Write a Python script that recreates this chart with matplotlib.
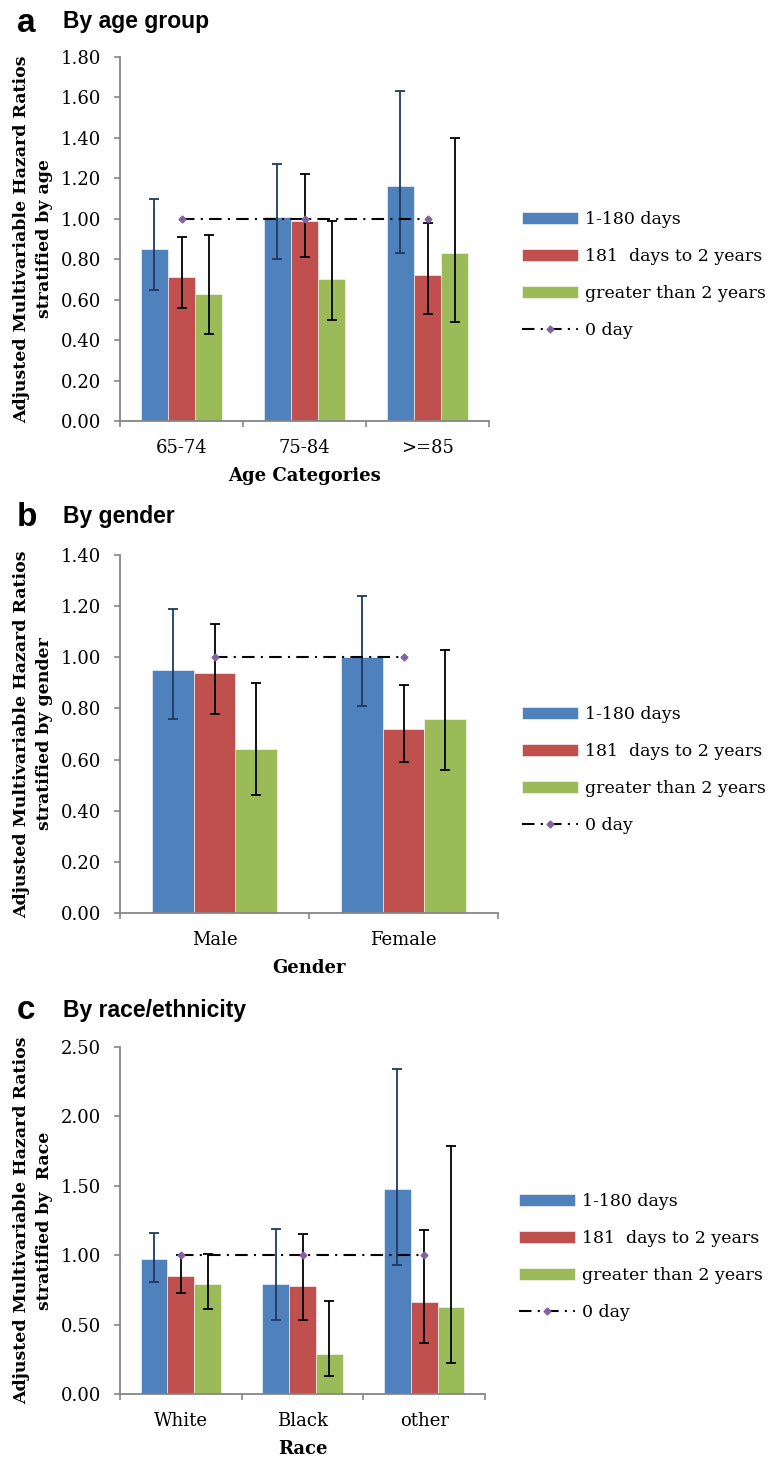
import numpy as np
import matplotlib.pyplot as plt

series_labels = ["1-180 days", "181  days to 2 years", "greater than 2 years"]
zero_label = "0 day"
bar_colors = ["#4F81BD", "#C0504D", "#9BBB59"]
err_colors = ["#1F3A5F", "black", "black"]

# panel a - age
age_cats = ["65-74", "75-84", ">=85"]
age_hr = [[0.85, 1.01, 1.16], [0.71, 0.99, 0.72], [0.63, 0.70, 0.83]]
age_lo = [[0.65, 0.80, 0.83], [0.56, 0.81, 0.53], [0.43, 0.50, 0.49]]
age_hi = [[1.10, 1.27, 1.63], [0.91, 1.22, 0.98], [0.92, 0.99, 1.40]]

# panel b - gender
sex_cats = ["Male", "Female"]
sex_hr = [[0.95, 1.00], [0.94, 0.72], [0.64, 0.76]]
sex_lo = [[0.76, 0.81], [0.78, 0.59], [0.46, 0.56]]
sex_hi = [[1.19, 1.24], [1.13, 0.89], [0.90, 1.03]]

# panel c - race
race_cats = ["White", "Black", "other"]
race_hr = [[0.97, 0.79, 1.48], [0.85, 0.78, 0.66], [0.79, 0.29, 0.63]]
race_lo = [[0.81, 0.53, 0.93], [0.73, 0.53, 0.37], [0.61, 0.13, 0.22]]
race_hi = [[1.16, 1.19, 2.34], [1.00, 1.15, 1.18], [1.01, 0.67, 1.79]]

zero_day = 1.0

SERIF = "DejaVu Serif"
SANS = "Liberation Sans"
FS = 13
W, H = 773, 1460


def draw_panel(rect, cats, hr, lo, hi, ymax, ystep, xlabel, ylabel, leg_xy):
    ax = fig.add_axes(rect)
    n = len(cats)
    x = np.arange(n) + 0.5
    width = 0.22
    handles = []
    for i in range(3):
        vals = np.array(hr[i])
        yerr = [vals - np.array(lo[i]), np.array(hi[i]) - vals]
        b = ax.bar(x + (i - 1) * width, vals, width, color=bar_colors[i],
                   edgecolor="white", linewidth=0.4, label=series_labels[i], zorder=2)
        handles.append(b)
        ax.errorbar(x + (i - 1) * width, vals, yerr=yerr, fmt="none",
                    ecolor=err_colors[i], elinewidth=1.3, capsize=3.8,
                    capthick=1.3, zorder=3)
    ln, = ax.plot(x, [zero_day] * n, color="black", linestyle=(0, (6, 3, 1, 3)),
                  linewidth=1.5, marker="D", markersize=3.5, markerfacecolor="#8064A2",
                  markeredgecolor="#8064A2", label=zero_label, zorder=4)
    handles.append(ln)

    ax.set_xlim(0, n)
    ax.set_ylim(0, ymax)
    yt = np.arange(0, ymax + 1e-9, ystep)
    ax.set_yticks(yt)
    ax.set_yticklabels(["%.2f" % v for v in yt], fontfamily=SERIF, fontsize=FS)
    ax.set_xticks(np.arange(n + 1))
    ax.set_xticklabels([])
    ax.set_xticks(x, minor=True)
    ax.set_xticklabels(cats, minor=True, fontfamily=SERIF, fontsize=FS)
    ax.tick_params(axis="x", which="minor", length=0, pad=13)
    ax.tick_params(axis="x", which="major", length=4.5, width=1.2, color="#868686")
    ax.tick_params(axis="y", length=4.5, width=1.2, color="#868686", pad=9)
    for s in ["top", "right"]:
        ax.spines[s].set_visible(False)
    for s in ["left", "bottom"]:
        ax.spines[s].set_color("#868686")
        ax.spines[s].set_linewidth(1.3)

    ax.set_xlabel(xlabel, fontfamily=SERIF, fontweight="bold", fontsize=FS,
                  labelpad=7)
    ax.set_ylabel(ylabel, fontfamily=SERIF, fontweight="bold", fontsize=12.5,
                  va="center", linespacing=1.45)
    ax.yaxis.set_label_coords(-87 / (rect[2] * W), 0.5)

    ax.legend(handles=handles, labels=series_labels + [zero_label],
              loc="center left", bbox_to_anchor=(leg_xy[0] / W, 1 - leg_xy[1] / H),
              bbox_transform=fig.transFigure, frameon=False, borderpad=0,
              borderaxespad=0, handlelength=3.2, handletextpad=0.45,
              labelspacing=1.15, prop={"family": SERIF, "size": 12.5})
    return ax


fig = plt.figure(figsize=(W / 100, H / 100), dpi=100)

draw_panel([120 / W, 1 - 421 / H, 369 / W, 364 / H], age_cats, age_hr, age_lo, age_hi,
           1.8, 0.2, "Age Categories",
           "Adjusted Multivariable Hazard Ratios\nstratified by age", (522, 275))
draw_panel([120 / W, 1 - 913 / H, 378 / W, 358 / H], sex_cats, sex_hr, sex_lo, sex_hi,
           1.4, 0.2, "Gender",
           "Adjusted Multivariable Hazard Ratios\nstratified by gender", (522, 770))
draw_panel([120 / W, 1 - 1394 / H, 365 / W, 347 / H], race_cats, race_hr, race_lo, race_hi,
           2.5, 0.5, "Race",
           "Adjusted Multivariable Hazard Ratios\nstratified by  Race", (519, 1257))

# panel letters and titles
for letter, title, ly, ty in [("a", "By age group", 32, 28),
                              ("b", "By gender", 526, 523),
                              ("c", "By race/ethnicity", 1019, 1017)]:
    fig.text(17 / W, 1 - ly / H, letter, fontfamily=SANS, fontweight="bold",
             fontsize=24, va="baseline", ha="left")
    fig.text(63 / W, 1 - ty / H, title, fontfamily=SANS, fontweight="bold",
             fontsize=16.5, va="baseline", ha="left")

fig.savefig("out.png", dpi=100)
